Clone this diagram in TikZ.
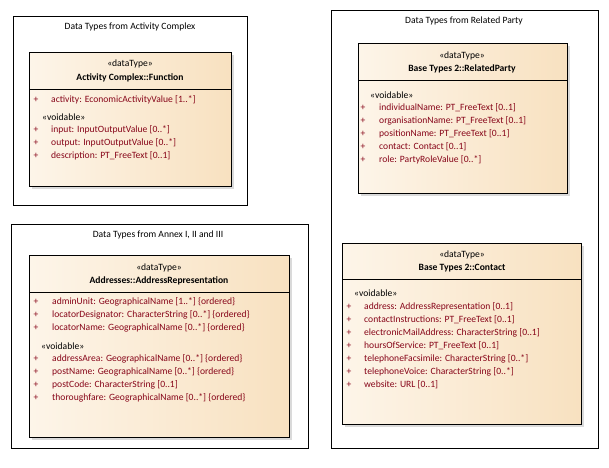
\documentclass[tikz,border=0pt]{standalone}
\usepackage{fontspec}
\setmainfont{Carlito}
\usetikzlibrary{shadings}
\definecolor{attrred}{RGB}{135,5,25}
\definecolor{boxleft}{RGB}{253,245,233}
\definecolor{boxright}{RGB}{248,225,192}
\definecolor{shadowgray}{RGB}{218,218,218}
\newcommand{\umlfont}{\fontsize{9.6}{11}\selectfont}
\tikzset{
  frame/.style={draw=black, line width=0.8pt},
  classbox/.style={draw=black, line width=1pt, left color=boxleft, right color=boxright, shading angle=90},
  sep/.style={draw=black, line width=0.8pt},
  title/.style={font=\umlfont, inner sep=0pt},
  stereo/.style={font=\umlfont, inner sep=0pt},
  cname/.style={font=\umlfont\bfseries, inner sep=0pt},
  attr/.style={font=\umlfont, text=attrred, inner sep=0pt, anchor=west},
  plus/.style={font=\umlfont, text=attrred, inner sep=0pt},
  tag/.style={font=\umlfont, inner sep=0pt, anchor=west},
}
% one attribute row: x of plus sign, x of text, y, text, name
\newcommand{\attrrow}[5]{%
  \node[plus] (#5p) at (#1,#3) {+};
  \node[attr] (#5) at (#2,#3) {#4};}
% class box with drop shadow and header separator
\newcommand{\umlbox}[6]{%
  \fill[shadowgray] (#1+3,#2+3) rectangle (#3+3,#4+3);
  \path[classbox] (#1,#2) rectangle (#3,#4);
  \draw[sep] (#1,#5) -- (#3,#5);
  \coordinate (#6) at (#1,#2);}
\begin{document}
\begin{tikzpicture}[x=1pt,y=-1pt]
\useasboundingbox (0,0) rectangle (609,467);
\fill[white] (0,0) rectangle (609,467);

% ---------- frames ----------
\node[frame, minimum width=234, minimum height=189, anchor=north west] (fAC) at (13,16) {};
\node[title] (tAC) at (130,27) {Data Types from Activity Complex};
\node[frame, minimum width=267, minimum height=438, anchor=north west] (fRP) at (331,10) {};
\node[title] (tRP) at (464,21) {Data Types from Related Party};
\node[frame, minimum width=297, minimum height=224, anchor=north west] (fAN) at (11,224) {};
\node[title] (tAN) at (158,235) {Data Types from Annex I, II and III};

% ---------- Activity Complex::Function ----------
\umlbox{29}{52}{231}{186}{89}{bFn}
\node[stereo] (sFn) at (130,64) {«dataType»};
\node[cname] (nFn) at (130,78) {Activity Complex::Function};
\attrrow{36}{51}{100}{activity: EconomicActivityValue [1..*]}{fn1}
\node[tag] (vFn) at (42,117) {«voidable»};
\attrrow{36}{51}{130}{input: InputOutputValue [0..*]}{fn2}
\attrrow{36}{51}{143}{output: InputOutputValue [0..*]}{fn3}
\attrrow{36}{51}{156}{description: PT\_FreeText [0..1]}{fn4}

% ---------- Base Types 2::RelatedParty ----------
\umlbox{358}{43}{567}{193}{80}{bRP}
\node[stereo] (sRP) at (462,56) {«dataType»};
\node[cname] (nRP) at (462,69) {Base Types 2::RelatedParty};
\node[tag] (vRP) at (370,95) {«voidable»};
\attrrow{363}{379}{108}{individualName: PT\_FreeText [0..1]}{rp1}
\attrrow{363}{379}{121}{organisationName: PT\_FreeText [0..1]}{rp2}
\attrrow{363}{379}{134}{positionName: PT\_FreeText [0..1]}{rp3}
\attrrow{363}{379}{147}{contact: Contact [0..1]}{rp4}
\attrrow{363}{379}{160}{role: PartyRoleValue [0..*]}{rp5}

% ---------- Base Types 2::Contact ----------
\umlbox{342}{243}{581}{424}{279}{bCt}
\node[stereo] (sCt) at (462,255) {«dataType»};
\node[cname] (nCt) at (462,268) {Base Types 2::Contact};
\node[tag] (vCt) at (354,293) {«voidable»};
\attrrow{349}{364}{307}{address: AddressRepresentation [0..1]}{ct1}
\attrrow{349}{364}{320}{contactInstructions: PT\_FreeText [0..1]}{ct2}
\attrrow{349}{364}{333}{electronicMailAddress: CharacterString [0..1]}{ct3}
\attrrow{349}{364}{346}{hoursOfService: PT\_FreeText [0..1]}{ct4}
\attrrow{349}{364}{359}{telephoneFacsimile: CharacterString [0..*]}{ct5}
\attrrow{349}{364}{372}{telephoneVoice: CharacterString [0..*]}{ct6}
\attrrow{349}{364}{385}{website: URL [0..1]}{ct7}

% ---------- Addresses::AddressRepresentation ----------
\umlbox{29}{255}{289}{437}{292}{bAd}
\node[stereo] (sAd) at (159,268) {«dataType»};
\node[cname] (nAd) at (159,281) {Addresses::AddressRepresentation};
\attrrow{36}{52}{302}{adminUnit: GeographicalName [1..*] \{ordered\}}{ad1}
\attrrow{36}{52}{315}{locatorDesignator: CharacterString [0..*] \{ordered\}}{ad2}
\attrrow{36}{52}{328}{locatorName: GeographicalName [0..*] \{ordered\}}{ad3}
\node[tag] (vAd) at (41,346) {«voidable»};
\attrrow{36}{52}{359}{addressArea: GeographicalName [0..*] \{ordered\}}{ad4}
\attrrow{36}{52}{372}{postName: GeographicalName [0..*] \{ordered\}}{ad5}
\attrrow{36}{52}{385}{postCode: CharacterString [0..1]}{ad6}
\attrrow{36}{52}{398}{thoroughfare: GeographicalName [0..*] \{ordered\}}{ad7}
\end{tikzpicture}
\end{document}
